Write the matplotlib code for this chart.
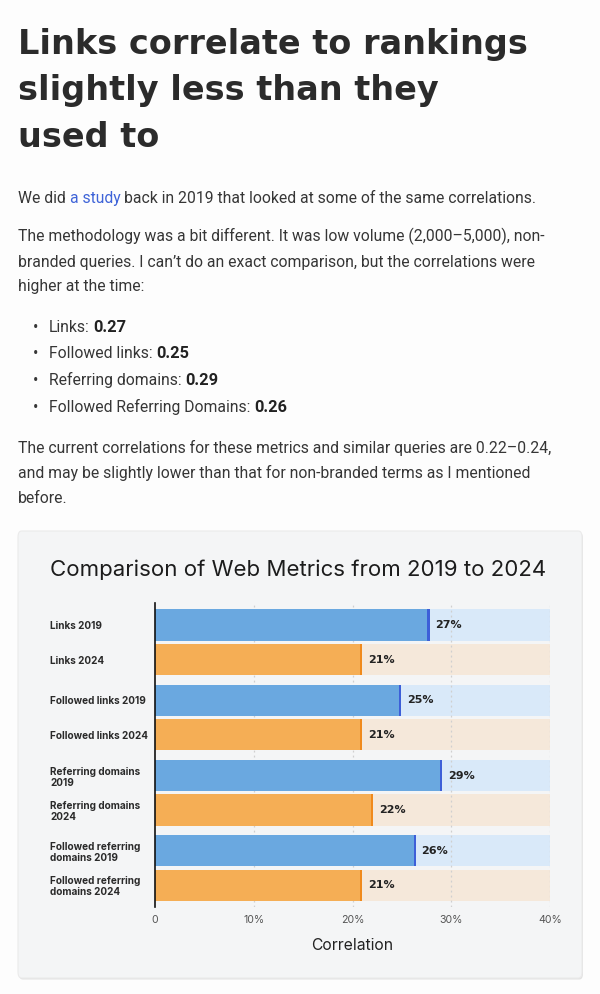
import matplotlib.pyplot as plt
from matplotlib.patches import FancyBboxPatch

W, H = 600, 994

# chart data
row_labels = ['Links 2019', 'Links 2024',
              'Followed links 2019', 'Followed links 2024',
              'Referring domains\n2019', 'Referring domains\n2024',
              'Followed referring\ndomains 2019', 'Followed referring\ndomains 2024']
corr_2019 = [27.8, 24.9, 29.1, 26.4]
corr_2024 = [21.0, 21.0, 22.1, 21.0]
text_2019 = ['27%', '25%', '29%', '26%']
text_2024 = ['21%', '21%', '22%', '21%']
x_ticks = [0, 10, 20, 30, 40]
x_tick_labels = ['0', '10%', '20%', '30%', '40%']

# article text
heading = ['Links correlate to rankings', 'slightly less than they', 'used to']
para1 = [('We did ', 'n'), ('a study', 'link'), (' back in 2019 that looked at some of the same correlations.', 'n')]
para2 = ['The methodology was a bit different. It was low volume (2,000\u20135,000), non-',
         'branded queries. I can\u2019t do an exact comparison, but the correlations were',
         'higher at the time:']
bullets = [('Links:', '0.27'), ('Followed links:', '0.25'),
           ('Referring domains:', '0.29'), ('Followed Referring Domains:', '0.26')]
para3 = ['The current correlations for these metrics and similar queries are 0.22\u20130.24,',
         'and may be slightly lower than that for non-branded terms as I mentioned',
         'before.']

BODY = 'Roboto'
BS = 11.35
TXT = '#363636'

fig = plt.figure(figsize=(W / 100, H / 100), dpi=100, facecolor='#fdfdfd')
renderer = fig.canvas.get_renderer()


def fx(x):
    return x / W


def fy(y):
    return 1 - y / H


def width(t):
    return t.get_window_extent(renderer).width


# heading
for i, line in enumerate(heading):
    fig.text(fx(18), fy(54 + i * 46.3), line, family='DejaVu Sans', weight='bold',
             fontsize=24.1, color='#2b2b2b', va='baseline')

# width of one space in body text
tmp = fig.text(0, 0, 'x x', family=BODY, fontsize=BS)
tmp2 = fig.text(0, 0, 'xx', family=BODY, fontsize=BS)
space = width(tmp) - width(tmp2)
tmp.remove()
tmp2.remove()

x = 18
for s, style in para1:
    if s.startswith(' '):
        x += space
    t = fig.text(fx(x), fy(203), s.strip(), family=BODY, fontsize=BS, va='baseline',
                 color='#3f64d8' if style == 'link' else TXT)
    x += width(t)
    if s.endswith(' '):
        x += space

for i, line in enumerate(para2):
    fig.text(fx(18), fy(241.5 + i * 25), line, family=BODY, fontsize=BS,
             color=TXT, va='baseline')

for i, (name, val) in enumerate(bullets):
    yb = 331.5 + i * 26.7
    fig.text(fx(36), fy(yb), '\u2022', family=BODY, fontsize=BS, color=TXT,
             va='baseline', ha='center')
    t = fig.text(fx(49), fy(yb), name, family=BODY, fontsize=BS, color=TXT, va='baseline')
    fig.text(fx(49 + width(t) + space), fy(yb), val, family=BODY, fontsize=BS + 0.4,
             weight='bold', color='#222222', va='baseline')

for i, line in enumerate(para3):
    fig.text(fx(18), fy(453.3 + i * 25), line, family=BODY, fontsize=BS,
             color=TXT, va='baseline')

# chart card with a soft shadow
shadow = FancyBboxPatch((fx(19), fy(979.5)), fx(564), 447 / H,
                        boxstyle='round,pad=0,rounding_size=0.006',
                        transform=fig.transFigure, facecolor='#e2e2e2', edgecolor='none',
                        zorder=-10)
card = FancyBboxPatch((fx(18), fy(978)), fx(564), 447 / H,
                      boxstyle='round,pad=0,rounding_size=0.006',
                      transform=fig.transFigure, facecolor='#f4f5f6', edgecolor='#ebebeb',
                      linewidth=0.8, zorder=-9)
fig.patches.extend([shadow, card])

fig.text(fx(50), fy(570), 'Comparison of Web Metrics from 2019 to 2024', family='Inter',
         fontsize=16, color='#1c1c1c', va='center')

# bar chart
ax = fig.add_axes([fx(155), fy(907), fx(395), 304 / H])
ax.set_facecolor('none')

step = 2.18
y19 = [i * step for i in range(len(corr_2019))]
y24 = [i * step + 1 for i in range(len(corr_2024))]
h = 0.9
edge = 0.22

ax.barh(y19, [40] * len(y19), height=h, color='#d9e9f9', zorder=1)
ax.barh(y24, [40] * len(y24), height=h, color='#f5e8da', zorder=1)
ax.barh(y19, corr_2019, height=h, color='#6aa8e0', zorder=2)
ax.barh(y24, corr_2024, height=h, color='#f5ae55', zorder=2)
ax.barh(y19, [edge] * len(y19), left=[v - edge for v in corr_2019], height=h,
        color='#3d5fd8', zorder=3)
ax.barh(y24, [edge] * len(y24), left=[v - edge for v in corr_2024], height=h,
        color='#f08a1c', zorder=3)

for yy, v, s in zip(y19, corr_2019, text_2019):
    ax.text(v + 0.6, yy, s, va='center', ha='left', fontsize=8, weight='bold',
            family='DejaVu Sans', color='#222222', zorder=4)
for yy, v, s in zip(y24, corr_2024, text_2024):
    ax.text(v + 0.6, yy, s, va='center', ha='left', fontsize=8, weight='bold',
            family='DejaVu Sans', color='#222222', zorder=4)

ticks_y = []
for a, b in zip(y19, y24):
    ticks_y += [a, b]
ax.set_yticks(ticks_y)
ax.set_yticklabels(row_labels, fontsize=7.2, weight='bold', family='Inter',
                   color='#2a2a2a', linespacing=1.15)
for lab in ax.get_yticklabels():
    lab.set_ha('left')
ax.tick_params(axis='y', length=0, pad=105 * 0.72)

ax.set_xlim(0, 40)
ax.set_ylim(y24[-1] + 0.63, -0.638)
ax.set_xticks(x_ticks)
ax.set_xticklabels(x_tick_labels, fontsize=7.6, family='Inter', color='#555555')
ax.tick_params(axis='x', length=0, pad=6)
ax.set_xlabel('Correlation', fontsize=11.3, family='Inter', color='#222222', labelpad=9)

for gx in x_ticks[1:]:
    ax.axvline(gx, color='#cfcfcf', lw=0.9, ls=(0, (1.5, 2.5)), zorder=1.5)
for side in ['top', 'right', 'bottom']:
    ax.spines[side].set_visible(False)
ax.spines['left'].set_color('#111111')
ax.spines['left'].set_linewidth(1.2)
ax.spines['left'].set_zorder(5)

fig.savefig('out.png', dpi=100, facecolor=fig.get_facecolor())
